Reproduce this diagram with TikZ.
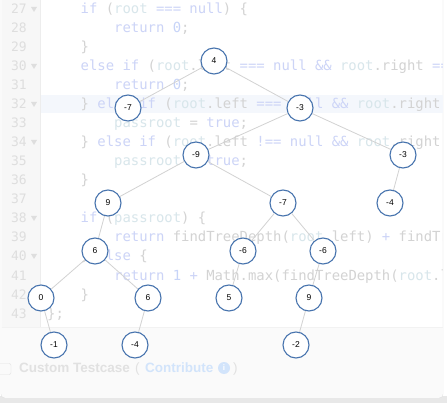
\documentclass[tikz,border=0pt]{standalone}
\usepackage{fontspec}
\setmainfont{Liberation Sans}
\setmonofont{DejaVu Sans Mono}
\usepackage{tikz}

\definecolor{nodeblue}{HTML}{4874AE}
\definecolor{edgegray}{HTML}{D2D2D2}
\definecolor{kwcol}{HTML}{CCD4F7}
\definecolor{rootcol}{HTML}{D8E6EB}
\definecolor{plaincol}{HTML}{D3D3D3}
\definecolor{numcol}{HTML}{C7D4F8}
\definecolor{gutternum}{HTML}{DEDEDE}
\definecolor{panelline}{HTML}{DEDEDE}
\definecolor{hlline}{HTML}{F4F7FC}
\definecolor{testcol}{HTML}{E1E1E1}
\definecolor{contribcol}{HTML}{D2E4FB}

\newcommand{\ckw}[1]{\textcolor{kwcol}{#1}}
\newcommand{\croot}[1]{\textcolor{rootcol}{#1}}
\newcommand{\cpl}[1]{\textcolor{plaincol}{#1}}
\newcommand{\cnum}[1]{\textcolor{numcol}{#1}}

\begin{document}
\begin{tikzpicture}[x=1pt,y=-1pt,
	code/.style={anchor=base west, inner sep=0pt, font=\fontsize{13.9}{19}\ttfamily},
	lineno/.style={anchor=base east, inner sep=0pt, text=gutternum, font=\fontsize{13}{19}\ttfamily},
	vertex/.style={circle, draw=nodeblue, fill=white, line width=1.1pt, minimum size=26pt, inner sep=0pt, font=\fontsize{8.5}{10}\selectfont},
	edge/.style={draw=edgegray, line width=0.8pt}]
	\useasboundingbox (0,0) rectangle (447,403);
	%\draw[help lines] (0,0) grid[step=20] (447,403);
	% panel
	\fill[white] (0,0) rectangle (447,403);
	\fill[panelline!70] (0,396) rectangle (447,403);
	\fill[white, draw=panelline] (1,-5) [rounded corners=4pt] -- (1,398) -- (443,398) [sharp corners] -- (443,-5);
	\fill[black!2] (1.5,327) [rounded corners=3.5pt] -- (1.5,397.5) -- (442.5,397.5) [sharp corners] -- (442.5,327) -- cycle;
	\draw[black!5] (1.5,327) -- (442.5,327);
	\fill[black!3] (1.5,-5) rectangle (40,327);
	\draw[black!7] (40,-5) -- (40,327);
	\fill[hlline] (40.5,95.5) rectangle (442.5,113.5);
	% line numbers
	\foreach \n in {27,...,43}
		\node[lineno] at (27,{14+(\n-27)*19}) {\n};
	\foreach \n in {27,30,32,34,38,40}
		\fill[gutternum] (31,{7+(\n-27)*19}) -- (37,{7+(\n-27)*19}) -- (34,{12+(\n-27)*19}) -- cycle;
	% code
	\begin{scope}
	\clip (40.5,-5) rectangle (442.5,327);
	\node[code] (l27) at (80.5,14) {\ckw{if} \cpl{(}\croot{root} \ckw{===} \ckw{null}\cpl{) \{}};
	\node[code] (l28) at (114,33) {\ckw{return} \cnum{0}\cpl{;}};
	\node[code] (l29) at (80.5,52) {\cpl{\}}};
	\node[code] (l30) at (80.5,71) {\ckw{else} \ckw{if} \cpl{(}\croot{root}\cpl{.left} \ckw{===} \ckw{null} \ckw{\&\&} \croot{root}\cpl{.right} \ckw{===} \ckw{null}\cpl{) \{}};
	\node[code] (l31) at (114,90) {\ckw{return} \cnum{0}\cpl{;}};
	\node[code] (l32) at (80.5,109) {\cpl{\}} \ckw{else} \ckw{if} \cpl{(}\croot{root}\cpl{.left} \ckw{===} \ckw{null} \ckw{\&\&} \croot{root}\cpl{.right} \ckw{!==} \ckw{null}\cpl{) \{}};
	\node[code] (l33) at (114,128) {\croot{passroot} \cpl{=} \ckw{true}\cpl{;}};
	\node[code] (l34) at (80.5,147) {\cpl{\}} \ckw{else} \ckw{if} \cpl{(}\croot{root}\cpl{.left} \ckw{!==} \ckw{null} \ckw{\&\&} \croot{root}\cpl{.right} \ckw{===} \ckw{null}\cpl{) \{}};
	\node[code] (l35) at (114,166) {\croot{passroot} \cpl{=} \ckw{true}\cpl{;}};
	\node[code] (l36) at (80.5,185) {\cpl{\}}};
	\node[code] (l38) at (80.5,223) {\ckw{if} \cpl{(}\croot{passroot}\cpl{) \{}};
	\node[code] (l39) at (114,242) {\ckw{return} \cpl{findTreeDepth(}\croot{root}\cpl{.left)} \ckw{+} \cpl{findTreeDepth(}\croot{root}\cpl{.right);}};
	\node[code] (l40) at (80.5,261) {\cpl{\}} \ckw{else} \cpl{\{}};
	\node[code] (l41) at (114,280) {\ckw{return} \cnum{1} \ckw{+} \cpl{Math.max(findTreeDepth(}\croot{root}\cpl{.left), findTreeDepth(}\croot{root}\cpl{.right));}};
	\node[code] (l42) at (80.5,299) {\cpl{\}}};
	\node[code] (l43) at (47,318) {\cpl{\};}};
	\end{scope}
	% testcase row
	\draw[testcol, rounded corners=2pt] (-3,363.5) rectangle (11,374.5);
	\node[anchor=base west, inner sep=0pt, text=testcol, font=\fontsize{13.5}{16}\bfseries] (ct) at (19,372.5) {Custom Testcase};
	\node[anchor=base west, inner sep=0pt, text=testcol, font=\fontsize{13.5}{16}\selectfont] (lp) at (135,372.5) {(};
	\node[anchor=base west, inner sep=0pt, text=contribcol, font=\fontsize{13.5}{16}\bfseries] (cb) at (145,372.5) {Contribute};
	\node[circle, fill=contribcol, minimum size=12pt, inner sep=0pt, text=white, font=\fontsize{8}{8}\bfseries] (info) at (224,368) {i};
	\node[anchor=base west, inner sep=0pt, text=testcol, font=\fontsize{13.5}{16}\selectfont] (rp) at (233,372.5) {)};
	% tree
	\node[vertex] (v4) at (214,61) {4};
	\node[vertex] (vm7) at (128,108) {-7};
	\node[vertex] (vm3) at (300,108) {-3};
	\node[vertex] (vm9) at (196,155) {-9};
	\node[vertex] (vm3b) at (403,155) {-3};
	\node[vertex] (v9) at (108,203) {9};
	\node[vertex] (vm7b) at (283,203) {-7};
	\node[vertex] (vm4) at (390,203) {-4};
	\node[vertex] (v6) at (95,251) {6};
	\node[vertex] (vm6) at (243,251) {-6};
	\node[vertex] (vm6b) at (323,251) {-6};
	\node[vertex] (v0) at (41,298) {0};
	\node[vertex] (v6b) at (148,298) {6};
	\node[vertex] (v5) at (229,298) {5};
	\node[vertex] (v9b) at (309,298) {9};
	\node[vertex] (vm1) at (54,345) {-1};
	\node[vertex] (vm4b) at (135,345) {-4};
	\node[vertex] (vm2) at (296,345) {-2};
	\draw[edge] (v4) -- (vm7);
	\draw[edge] (v4) -- (vm3);
	\draw[edge] (vm3) -- (vm9);
	\draw[edge] (vm3) -- (vm3b);
	\draw[edge] (vm9) -- (v9);
	\draw[edge] (vm9) -- (vm7b);
	\draw[edge] (vm3b) -- (vm4);
	\draw[edge] (v9) -- (v6);
	\draw[edge] (vm7b) -- (vm6);
	\draw[edge] (vm7b) -- (vm6b);
	\draw[edge] (v6) -- (v0);
	\draw[edge] (v6) -- (v6b);
	\draw[edge] (vm6) -- (v5);
	\draw[edge] (vm6b) -- (v9b);
	\draw[edge] (v0) -- (vm1);
	\draw[edge] (v6b) -- (vm4b);
	\draw[edge] (v9b) -- (vm2);
\end{tikzpicture}
\end{document}
